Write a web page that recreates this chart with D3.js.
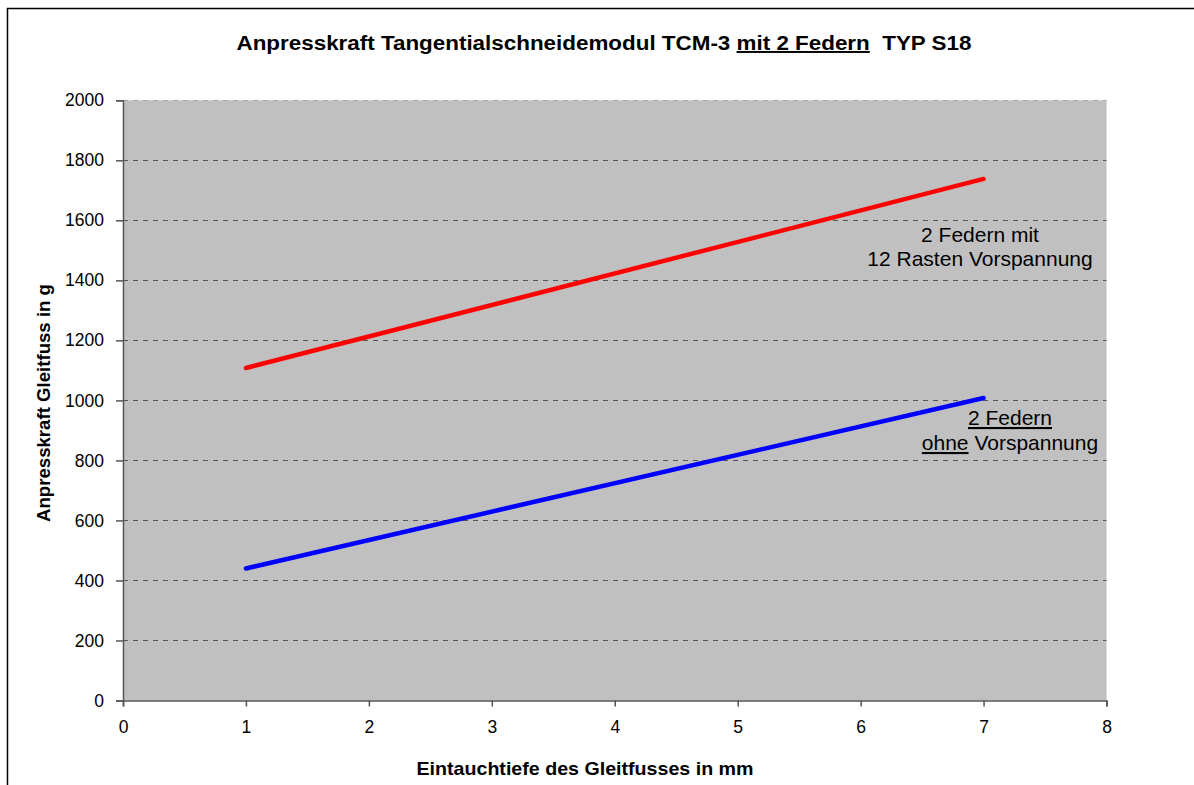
<!DOCTYPE html>
<html>
<head>
<meta charset="utf-8">
<script src="https://cdn.jsdelivr.net/npm/d3@7"></script>
<style>
  body { margin: 0; background: #fff; }
  svg { display: block; font-family: Arial, "Liberation Sans", sans-serif; }
</style>
</head>
<body>
<div id="app"></div>
<script>
// data
const depthValues = [1, 7];
const withPreload = [1108, 1738];   // 2 Federn mit 12 Rasten Vorspannung
const withoutPreload = [440, 1008]; // 2 Federn ohne Vorspannung
const xTicks = [0, 1, 2, 3, 4, 5, 6, 7, 8];
const yTicks = [0, 200, 400, 600, 800, 1000, 1200, 1400, 1600, 1800, 2000];

const width = 1194;
const height = 785;

const svg = d3.select('#app')
  .append('svg')
  .attr('width', width)
  .attr('height', height);

// outer chart border (right / bottom run off the picture)
svg.append('rect')
  .attr('x', 7.5)
  .attr('y', 8.5)
  .attr('width', 1300)
  .attr('height', 900)
  .attr('fill', 'none')
  .attr('stroke', '#000')
  .attr('stroke-width', 1.5);

const x = d3.scaleLinear().domain([0, 8]).range([123, 1106.5]);
const y = d3.scaleLinear().domain([0, 2000]).range([700.5, 100.3]);

// plot area
svg.append('rect')
  .attr('x', x(0))
  .attr('y', y(2000))
  .attr('width', x(8) - x(0))
  .attr('height', y(0) - y(2000))
  .attr('fill', '#c0c0c0');

// dashed gridlines
svg.append('g')
  .selectAll('line')
  .data(yTicks.filter(d => d > 0))
  .join('line')
  .attr('x1', x(0))
  .attr('x2', x(8))
  .attr('y1', d => Math.round(y(d)) + 0.5)
  .attr('y2', d => Math.round(y(d)) + 0.5)
  .attr('stroke', d => d === 2000 ? '#a8a8a8' : '#555')
  .attr('stroke-width', 1)
  .attr('stroke-dasharray', '5,5');

// axes
const xAxis = svg.append('g')
  .attr('transform', `translate(0,${y(0)})`)
  .call(d3.axisBottom(x).tickValues(xTicks).tickSize(6).tickPadding(14).tickFormat(d3.format('d')));

const yAxis = svg.append('g')
  .attr('transform', `translate(${x(0)},0)`)
  .call(d3.axisLeft(y).tickValues(yTicks).tickSize(7).tickPadding(12).tickFormat(d3.format('d')));

[xAxis, yAxis].forEach(ax => {
  ax.select('.domain').attr('stroke', '#555').attr('stroke-width', 1.5);
  ax.selectAll('.tick line').attr('stroke', '#555').attr('stroke-width', 1.5);
  ax.selectAll('.tick text')
    .attr('fill', '#000')
    .style('font-size', '17.5px')
    .style('font-family', 'Arial, "Liberation Sans", sans-serif');
});

// series
const line = d3.line()
  .x(d => x(d[0]))
  .y(d => y(d[1]));

const seriesList = [
  { values: withPreload, color: '#ff0000' },
  { values: withoutPreload, color: '#0000ff' }
];

seriesList.forEach(s => {
  svg.append('path')
    .datum(depthValues.map((d, i) => [d, s.values[i]]))
    .attr('d', line)
    .attr('fill', 'none')
    .attr('stroke', s.color)
    .attr('stroke-width', 4.5)
    .attr('stroke-linecap', 'round');
});

// title
const title = svg.append('text')
  .attr('x', 604)
  .attr('y', 50)
  .attr('text-anchor', 'middle')
  .attr('textLength', 735)
  .attr('lengthAdjust', 'spacingAndGlyphs')
  .style('font-size', '19.5px')
  .style('font-weight', 'bold');
title.append('tspan').text('Anpresskraft Tangentialschneidemodul TCM-3 ');
title.append('tspan').attr('text-decoration', 'underline').text('mit 2 Federn');
title.append('tspan').text('\u00a0 TYP S18');

// axis titles
svg.append('text')
  .attr('x', 585)
  .attr('y', 775)
  .attr('text-anchor', 'middle')
  .attr('textLength', 337)
  .attr('lengthAdjust', 'spacingAndGlyphs')
  .style('font-size', '19px')
  .style('font-weight', 'bold')
  .text('Eintauchtiefe des Gleitfusses in mm');

svg.append('text')
  .attr('transform', 'translate(50,403) rotate(-90)')
  .attr('text-anchor', 'middle')
  .attr('textLength', 238)
  .attr('lengthAdjust', 'spacingAndGlyphs')
  .style('font-size', '19px')
  .style('font-weight', 'bold')
  .text('Anpresskraft Gleitfuss in g');

// annotations
const note1 = svg.append('text')
  .attr('text-anchor', 'middle')
  .style('font-size', '21px');
note1.append('tspan').attr('x', 980).attr('y', 242).text('2 Federn mit');
note1.append('tspan').attr('x', 980).attr('y', 266).text('12 Rasten Vorspannung');

const note2 = svg.append('text')
  .attr('text-anchor', 'middle')
  .style('font-size', '21px');
note2.append('tspan').attr('x', 1010).attr('y', 425)
  .attr('text-decoration', 'underline').text('2 Federn');
const note2b = note2.append('tspan').attr('x', 1010).attr('y', 450);
note2b.append('tspan').attr('text-decoration', 'underline').text('ohne');
note2b.append('tspan').text(' Vorspannung');
</script>
</body>
</html>
